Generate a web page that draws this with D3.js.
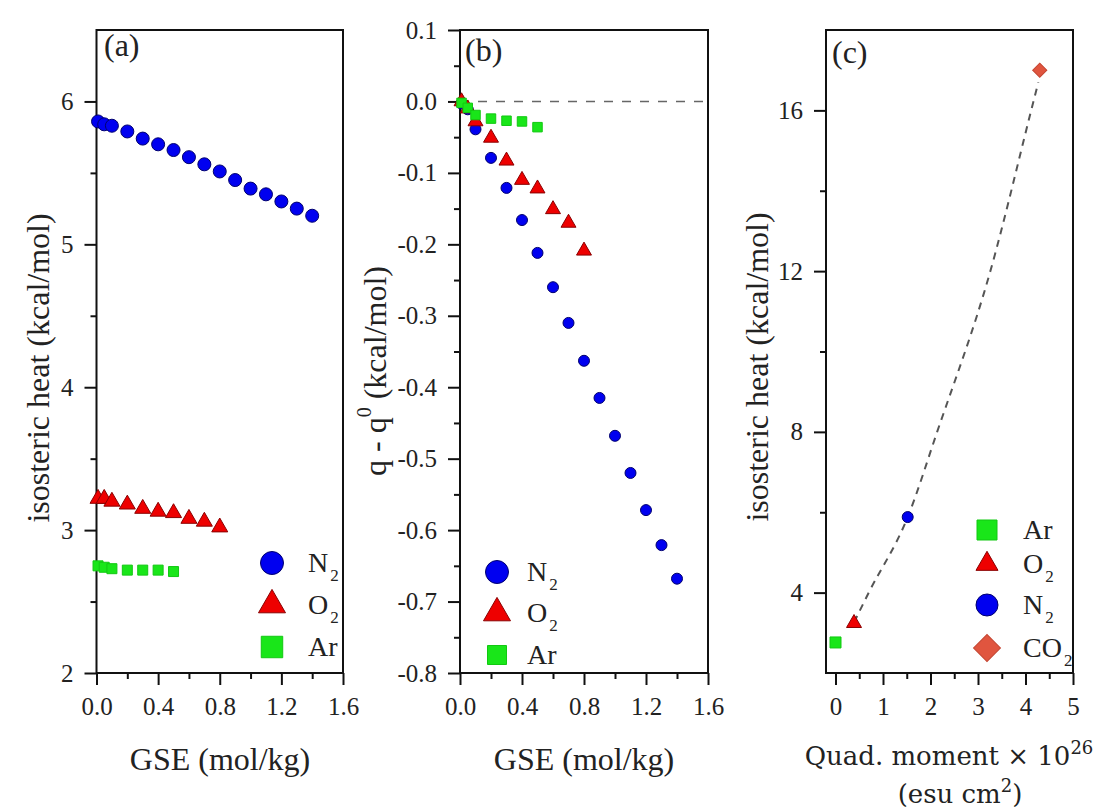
<!DOCTYPE html>
<html>
<head>
<meta charset="utf-8">
<script src="https://cdn.jsdelivr.net/npm/d3@7"></script>
<style>
  body { margin: 0; background: #fff; }
  svg { display: block; font-family: "Liberation Serif", "Times New Roman", serif; }
</style>
</head>
<body>
<svg id="chart" width="1106" height="812"></svg>
<script>
// ---- data ----
var gseN2 = [0.01, 0.05, 0.1, 0.2, 0.3, 0.4, 0.5, 0.6, 0.7, 0.8, 0.9, 1.0, 1.1, 1.2, 1.3, 1.4];
var gseO2 = [0.01, 0.05, 0.1, 0.2, 0.3, 0.4, 0.5, 0.6, 0.7, 0.8];
var gseAr = [0.01, 0.05, 0.1, 0.2, 0.3, 0.4, 0.5];

// (a) isosteric heat, kcal/mol
var heatN2 = [5.86, 5.84, 5.83, 5.79, 5.74, 5.70, 5.66, 5.61, 5.56, 5.51, 5.45, 5.39, 5.35, 5.30, 5.25, 5.20];
var heatO2 = [3.22, 3.22, 3.20, 3.18, 3.15, 3.13, 3.12, 3.08, 3.06, 3.02];
var heatAr = [2.75, 2.74, 2.73, 2.72, 2.72, 2.72, 2.71];

// (b) q - q0, kcal/mol
var dqN2 = [-0.003, -0.011, -0.039, -0.079, -0.121, -0.166, -0.212, -0.260, -0.310, -0.363, -0.415, -0.468, -0.520, -0.572, -0.621, -0.668];
var dqO2 = [0.0, -0.010, -0.028, -0.051, -0.083, -0.110, -0.122, -0.151, -0.170, -0.209];
var dqAr = [-0.002, -0.009, -0.019, -0.024, -0.027, -0.028, -0.036];

// (c) heat vs quadrupole moment
var gasC = ["Ar", "O2", "N2", "CO2"];
var quadC = [0.0, 0.39, 1.52, 4.3];
var heatC = [2.76, 3.24, 5.88, 17.0];
var fitQuad = [0.39, 0.7, 1.52, 2.14, 3.26, 4.12, 4.27];
var fitHeat = [3.26, 4.0, 5.88, 8.0, 12.0, 16.0, 16.7];

// tick labels
var ticksGse = [0, 0.4, 0.8, 1.2, 1.6];
var ticksHeatA = [2, 3, 4, 5, 6];
var ticksDq = [-0.8, -0.7, -0.6, -0.5, -0.4, -0.3, -0.2, -0.1, 0.0, 0.1];
var ticksQuad = [0, 1, 2, 3, 4, 5];
var ticksHeatC = [4, 8, 12, 16];

// ---- styles ----
var style = {
    N2:  {shape: d3.symbolCircle,   fill: "#0000f0", stroke: "#00006e", rot: 0},
    O2:  {shape: d3.symbolTriangle, fill: "#ee0000", stroke: "#8a0000", rot: 0},
    Ar:  {shape: d3.symbolSquare,   fill: "#19e619", stroke: "#12c812", rot: 0},
    CO2: {shape: d3.symbolSquare,   fill: "#e0553f", stroke: "#c44430", rot: 45}
};
var SERIF = "Liberation Serif";

var svg = d3.select("#chart");
svg.append("rect").attr("width", 1106).attr("height", 812).attr("fill", "#fff");

var TOP = 30, BOTTOM = 673;
var fmtDq = d => d3.format(".1f")(d).replace("\u2212", "-");

function makePanel(left, right, xDom, yDom, xMajor, xMinor, yMajor, yMinor, xFmt, yFmt) {
    var x = d3.scaleLinear().domain(xDom).range([left, right]);
    var y = d3.scaleLinear().domain(yDom).range([BOTTOM, TOP]);
    var g = svg.append("g");

    g.append("g").attr("transform", `translate(0,${BOTTOM})`)
        .call(d3.axisBottom(x).tickValues(xMinor).tickSize(6).tickFormat(""));
    g.append("g").attr("transform", `translate(0,${BOTTOM})`)
        .call(d3.axisBottom(x).tickValues(xMajor).tickSize(12).tickPadding(12).tickFormat(xFmt));
    g.append("g").attr("transform", `translate(${left},0)`)
        .call(d3.axisLeft(y).tickValues(yMinor).tickSize(6).tickFormat(""));
    g.append("g").attr("transform", `translate(${left},0)`)
        .call(d3.axisLeft(y).tickValues(yMajor).tickSize(12).tickPadding(11).tickFormat(yFmt));

    g.selectAll(".domain").remove();
    g.selectAll(".tick line").attr("stroke", "#111").attr("stroke-width", 2);
    g.selectAll(".tick text")
        .style("font-family", SERIF).style("font-size", "25px").attr("fill", "#222");

    g.append("rect")
        .attr("x", left).attr("y", TOP)
        .attr("width", right - left).attr("height", BOTTOM - TOP)
        .attr("fill", "none").attr("stroke", "#111").attr("stroke-width", 2);
    return {x: x, y: y, g: g};
}

function drawPoints(p, xs, ys, gas, size) {
    var s = style[gas];
    p.g.append("g").selectAll("path")
        .data(d3.zip(xs, ys))
        .join("path")
        .attr("transform", d => `translate(${p.x(d[0])},${p.y(d[1])}) rotate(${s.rot})`)
        .attr("d", d3.symbol(s.shape, size))
        .attr("fill", s.fill)
        .attr("stroke", s.stroke)
        .attr("stroke-width", 1);
}

function legendItem(g, mx, my, tx, gas, label, sub, size) {
    var s = style[gas];
    g.append("path")
        .attr("transform", `translate(${mx},${my}) rotate(${s.rot})`)
        .attr("d", d3.symbol(s.shape, size))
        .attr("fill", s.fill).attr("stroke", s.stroke).attr("stroke-width", 1);
    var t = g.append("text").attr("x", tx).attr("y", my + 9)
        .style("font-family", SERIF).attr("font-size", 28).attr("fill", "#222").text(label);
    if (sub) t.append("tspan").attr("dx", 2).attr("dy", 9).attr("font-size", 17).text(sub);
}

function panelTag(g, x, y, txt) {
    g.append("text").attr("x", x).attr("y", y)
        .style("font-family", SERIF).attr("font-size", 32).attr("fill", "#222").text(txt);
}

function yTitle(g, x, y) {
    return g.append("text")
        .attr("transform", `translate(${x},${y}) rotate(-90)`)
        .attr("text-anchor", "middle")
        .style("font-family", SERIF).attr("font-size", 32).attr("fill", "#222");
}

function xTitle(g, x, y, txt) {
    return g.append("text").attr("x", x).attr("y", y).attr("text-anchor", "middle")
        .style("font-family", SERIF).attr("font-size", 32).attr("fill", "#222").text(txt);
}

// ---- panel (a) ----
var pa = makePanel(96.5, 343, [0, 1.6], [2, 6.5], ticksGse, [0.2, 0.6, 1.0, 1.4],
    ticksHeatA, [2.5, 3.5, 4.5, 5.5], d3.format(".1f"), d3.format("d"));
drawPoints(pa, gseN2, heatN2, "N2", 133);
drawPoints(pa, gseO2, heatO2, "O2", 111);
drawPoints(pa, gseAr, heatAr, "Ar", 100);
legendItem(pa.g, 272, 563, 308, "N2", "N", "2", 415);
legendItem(pa.g, 272, 605, 308, "O2", "O", "2", 316);
legendItem(pa.g, 272, 647, 308, "Ar", "Ar", null, 460);
panelTag(pa.g, 104, 56, "(a)");
yTitle(pa.g, 49, 368).text("isosteric heat (kcal/mol)");
xTitle(pa.g, 220, 770, "GSE (mol/kg)");

// ---- panel (b) ----
var pb = makePanel(460, 708, [0, 1.6], [-0.8, 0.1], ticksGse, [0.2, 0.6, 1.0, 1.4],
    ticksDq, [-0.75, -0.65, -0.55, -0.45, -0.35, -0.25, -0.15, -0.05, 0.05], d3.format(".1f"), fmtDq);
pb.g.append("line")
    .attr("x1", pb.x(0)).attr("x2", pb.x(1.6))
    .attr("y1", pb.y(0)).attr("y2", pb.y(0))
    .attr("stroke", "#666").attr("stroke-width", 1.6).attr("stroke-dasharray", "9,9");
drawPoints(pb, gseN2, dqN2, "N2", 95);
drawPoints(pb, gseO2, dqO2, "O2", 97);
drawPoints(pb, gseAr, dqAr, "Ar", 90);
legendItem(pb.g, 497, 572, 527, "N2", "N", "2", 415);
legendItem(pb.g, 497, 613, 527, "O2", "O", "2", 316);
legendItem(pb.g, 497, 655, 527, "Ar", "Ar", null, 361);
panelTag(pb.g, 465, 61, "(b)");
var tb = yTitle(pb.g, 386, 371).text("q - q");
tb.append("tspan").attr("dy", -15).attr("font-size", 20).text("0");
tb.append("tspan").attr("dy", 15).text(" (kcal/mol)");
xTitle(pb.g, 584, 770, "GSE (mol/kg)");

// ---- panel (c) ----
var pc = makePanel(826, 1073, [-0.2, 5], [2, 18], ticksQuad, [0.5, 1.5, 2.5, 3.5, 4.5],
    ticksHeatC, [6, 10, 14], d3.format("d"), d3.format("d"));
pc.g.append("path")
    .datum(d3.zip(fitQuad, fitHeat))
    .attr("d", d3.line().x(d => pc.x(d[0])).y(d => pc.y(d[1])).curve(d3.curveMonotoneX))
    .attr("fill", "none").attr("stroke", "#555").attr("stroke-width", 2).attr("stroke-dasharray", "7,6");
var sizeC = {Ar: 121, O2: 97, N2: 95, CO2: 100};
gasC.forEach((gas, i) => drawPoints(pc, [quadC[i]], [heatC[i]], gas, sizeC[gas]));
legendItem(pc.g, 987, 530, 1023, "Ar", "Ar", null, 400);
legendItem(pc.g, 987, 564, 1023, "O2", "O", "2", 210);
legendItem(pc.g, 987, 605, 1023, "N2", "N", "2", 380);
legendItem(pc.g, 987, 648, 1023, "CO2", "CO", "2", 361);
panelTag(pc.g, 832, 63, "(c)");
yTitle(pc.g, 768, 367).text("isosteric heat (kcal/mol)");
var tc1 = pc.g.append("text").attr("x", 949).attr("y", 765).attr("text-anchor", "middle")
    .style("font-family", "DejaVu Serif").attr("font-size", 26).attr("fill", "#222")
    .text("Quad. moment \u00d7 10");
tc1.append("tspan").attr("dy", -11).attr("font-size", 18).text("26");
var tc2 = pc.g.append("text").attr("x", 960).attr("y", 803).attr("text-anchor", "middle")
    .style("font-family", "DejaVu Serif").attr("font-size", 26).attr("fill", "#222")
    .text("(esu cm");
tc2.append("tspan").attr("dy", -11).attr("font-size", 18).text("2");
tc2.append("tspan").attr("dy", 11).text(")");
</script>
</body>
</html>
